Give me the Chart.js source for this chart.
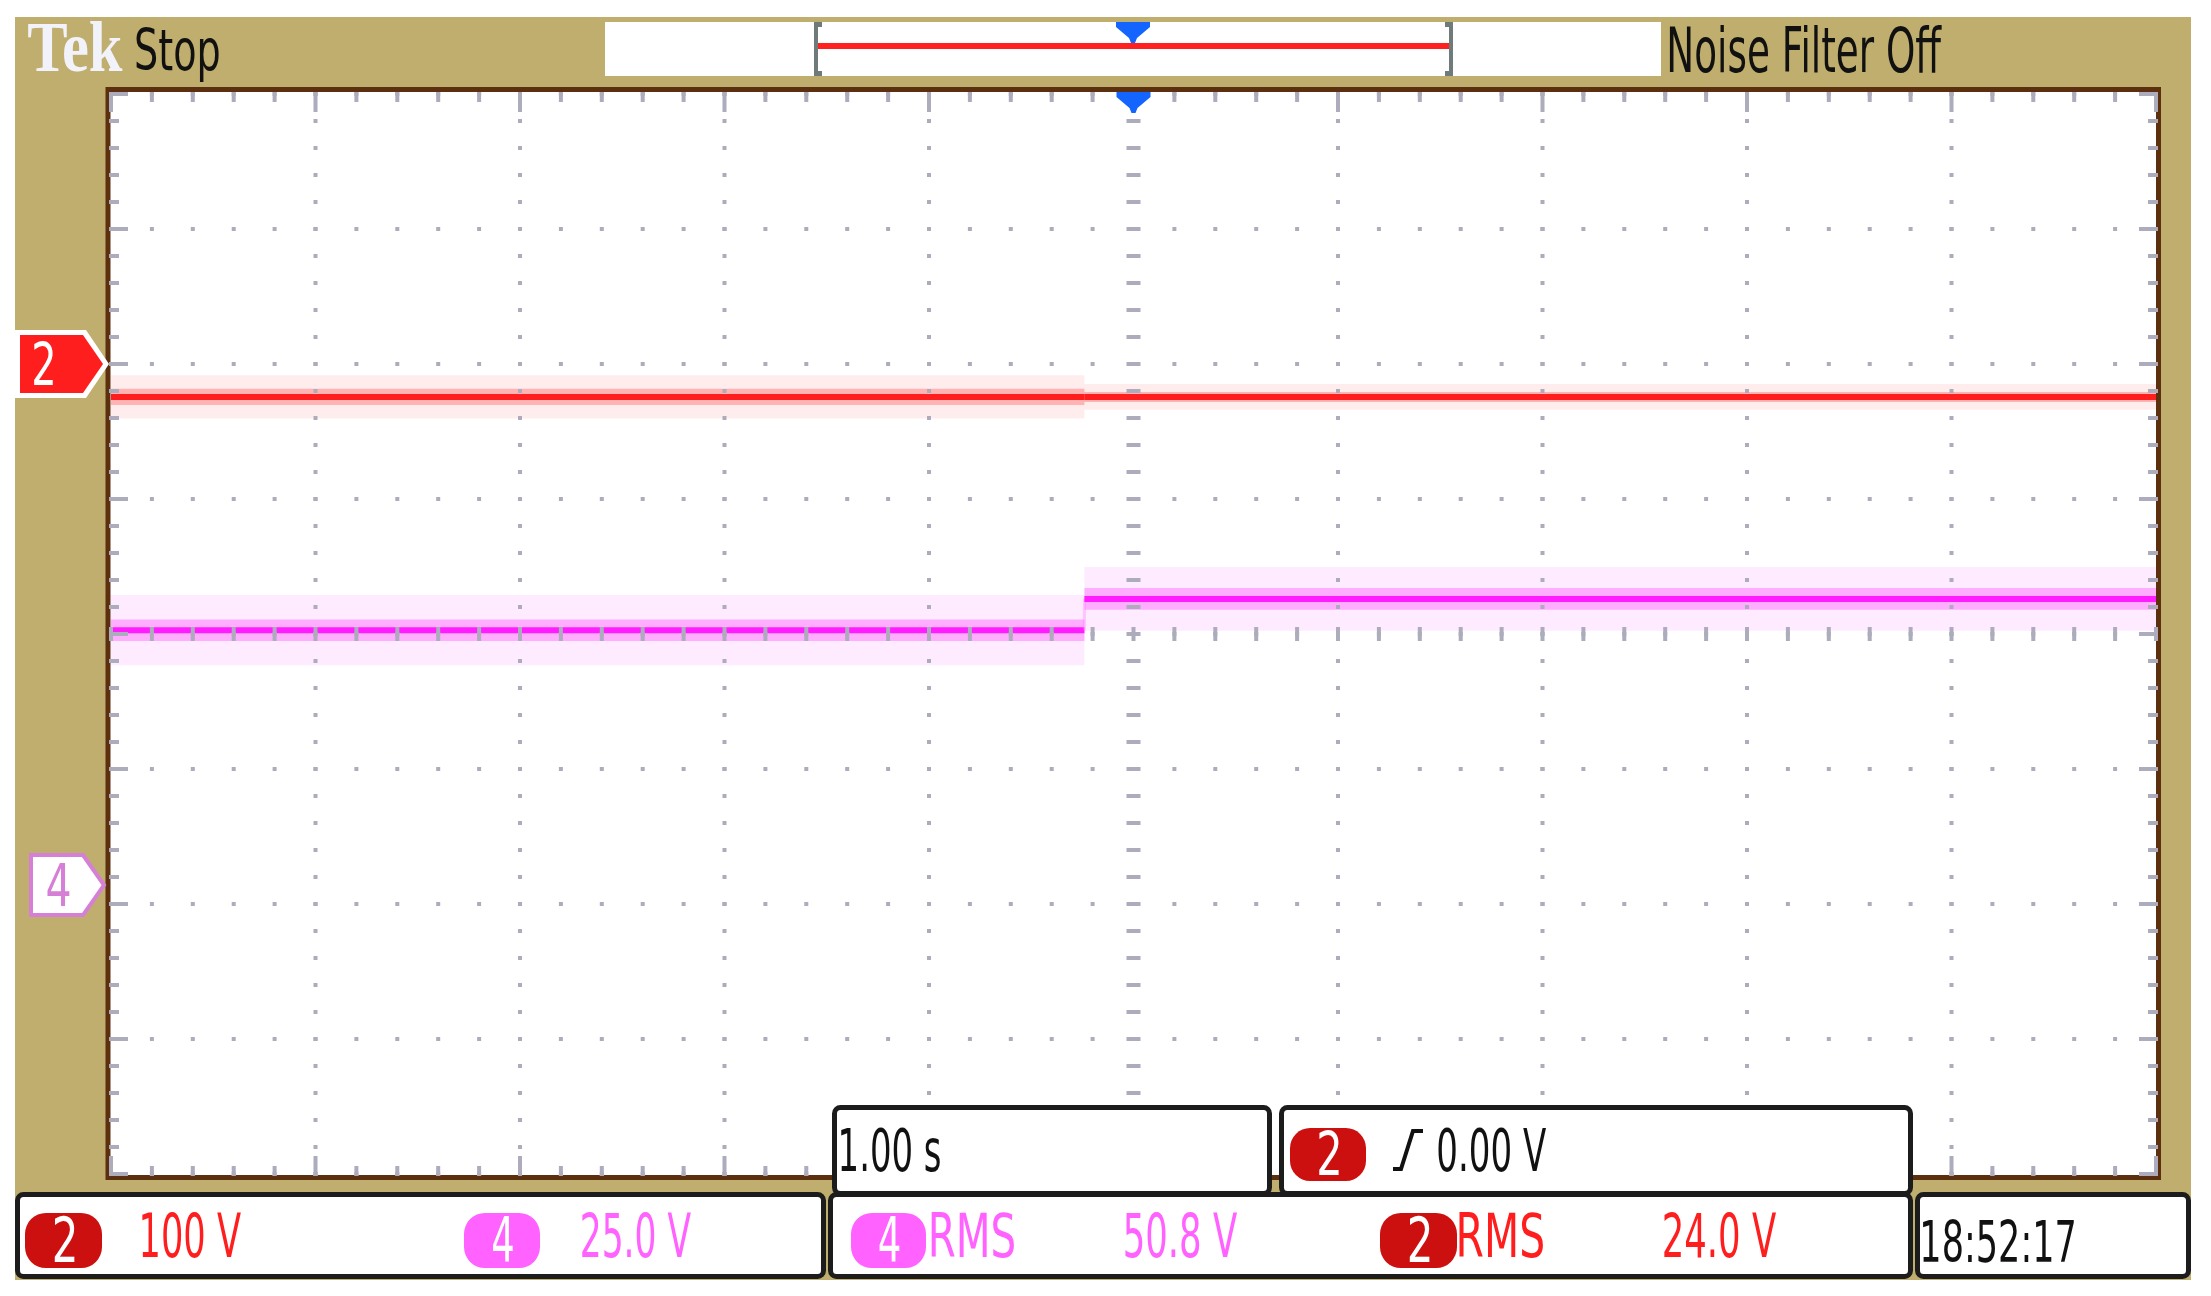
<!DOCTYPE html>
<html>
<head>
<meta charset="utf-8">
<script src="https://cdn.jsdelivr.net/npm/chart.js@4/dist/chart.umd.min.js"></script>
<style>
  html, body { margin: 0; background: #fff; }
  canvas { display: block; }
</style>
</head>
<body>
<canvas id="scope" width="2211" height="1296"></canvas>
<script>
// time axis: seconds relative to trigger, 1.00 s/div, 10 divisions
const segEdges = [-5, -0.24, 5];
// channel levels per segment (V)
const ch2Volts = [-24.4, -24.4];
const ch4Volts = [47.2, 53.0];
// noise envelope half widths per segment (V)
const ch2Spread = [16, 9.5];
const ch2Dense = [6, 3.7];
const ch4Spread = [6.5, 5.9];
const ch4Dense = [2.0, 2.0];
// vertical settings
const ch2Scale = 100, ch4Scale = 25;   // V/div
const ch2Pos = 2.0, ch4Pos = -1.86;    // div
const rmsValues = [50.8, 24.0];        // ch4, ch2
const timePerDiv = "1.00 s";
const trigLevel = "0.00 V";
const clock = "18:52:17";

const TAN = "#c0ae6e";
const RED = "#ff1e1e";
const DARKRED = "#cc1010";
const MAG = "#ff62ff";
const GRAT = "#acacbc";
const FONT = "'DejaVu Sans'";

const ch2Div = v => v / ch2Scale + ch2Pos;
const ch4Div = v => v / ch4Scale + ch4Pos;

function trace(levels, conv) {
  const pts = [];
  levels.forEach((v, i) => {
    pts.push({ x: segEdges[i], y: conv(v) });
    pts.push({ x: segEdges[i + 1], y: conv(v) });
  });
  return pts;
}
function band(levels, spread, sign, conv) {
  return trace(levels.map((v, i) => v + sign * spread[i]), conv);
}

// draw text squeezed into a box (scope font is very narrow)
function fitText(ctx, str, x0, x1, capTop, baseline, color, family, weight) {
  const size = (baseline - capTop) / 0.73;
  ctx.save();
  ctx.font = (weight || "") + " " + size + "px " + (family || FONT);
  const m = ctx.measureText(str);
  const w = m.actualBoundingBoxLeft + m.actualBoundingBoxRight;
  ctx.translate(x0, baseline);
  ctx.scale((x1 - x0) / w, 1);
  ctx.fillStyle = color;
  ctx.textBaseline = "alphabetic";
  ctx.fillText(str, m.actualBoundingBoxLeft, 0);
  ctx.restore();
}

function box(ctx, x0, y0, x1, y1) {
  ctx.beginPath();
  ctx.roundRect(x0 + 2.5, y0 + 2.5, x1 - x0 - 5, y1 - y0 - 5, 6);
  ctx.fillStyle = "#fff";
  ctx.fill();
  ctx.lineWidth = 5;
  ctx.strokeStyle = "#1c1c1c";
  ctx.stroke();
}

function pill(ctx, x0, x1, y0, y1, fill, digit) {
  ctx.beginPath();
  ctx.roundRect(x0, y0, x1 - x0, y1 - y0, (y1 - y0) * 0.38);
  ctx.fillStyle = fill;
  ctx.fill();
  const cx = (x0 + x1) / 2 + 1;
  fitText(ctx, digit, cx - 10, cx + 10, y0 + 3, y1 - 6, "#fff");
}

function blueMarker(ctx, cx, t) {
  ctx.beginPath();
  ctx.moveTo(cx - 17, t);
  ctx.lineTo(cx + 17, t);
  ctx.lineTo(cx + 17, t + 5);
  ctx.lineTo(cx + 4, t + 16);
  ctx.lineTo(cx + 2, t + 21);
  ctx.lineTo(cx - 2, t + 21);
  ctx.lineTo(cx - 4, t + 16);
  ctx.lineTo(cx - 17, t + 5);
  ctx.closePath();
  ctx.fillStyle = "#1464ff";
  ctx.fill();
}

const frame = {
  id: "frame",
  beforeDraw(chart) {
    const ctx = chart.ctx;
    const a = chart.chartArea;
    ctx.save();
    ctx.fillStyle = "#fff";
    ctx.fillRect(0, 0, chart.width, chart.height);
    ctx.fillStyle = TAN;
    ctx.fillRect(15, 17, 2176, 1263);
    ctx.fillStyle = "#fff";
    ctx.fillRect(a.left - 2, a.top - 3, a.right - a.left + 3, a.bottom - a.top + 5);
    ctx.strokeStyle = "#5c2f0f";
    ctx.lineWidth = 5;
    ctx.strokeRect(a.left - 3, a.top - 4.5, a.right - a.left + 5.5, a.bottom - a.top + 8);

    // top bar
    fitText(ctx, "Tek", 28, 123, 18, 71, "#f2f2fb", "'Liberation Serif'", "bold");
    fitText(ctx, "Stop", 136, 219, 28, 70, "#111");
    fitText(ctx, "Noise Filter Off", 1670, 1942, 27, 72, "#111");
    ctx.fillStyle = "#fff";
    ctx.fillRect(605, 22, 1056, 54);
    ctx.fillStyle = "#6f7a7a";
    ctx.fillRect(814, 22, 4, 54);
    ctx.fillRect(814, 22, 8, 5);
    ctx.fillRect(814, 71, 8, 5);
    ctx.fillRect(1449, 22, 4, 54);
    ctx.fillRect(1445, 22, 8, 5);
    ctx.fillRect(1445, 71, 8, 5);
    ctx.fillStyle = "#ff2020";
    ctx.fillRect(818, 43, 631, 6);
    blueMarker(ctx, 1133, 22);
    ctx.restore();
  },
  afterDatasetsDraw(chart) {
    const ctx = chart.ctx;
    const a = chart.chartArea;
    const xs = chart.scales.x, ys = chart.scales.y;
    ctx.save();
    ctx.fillStyle = GRAT;
    const cx = xs.getPixelForValue(0), cy = ys.getPixelForValue(0);
    // dotted major lines
    for (let i = -5; i <= 5; i++) {
      const x = xs.getPixelForValue(i);
      for (let k = -20; k <= 20; k++) {
        const y = ys.getPixelForValue(k / 5);
        ctx.fillRect(x - 2, y - 2, 4, 4);
      }
    }
    for (let j = -4; j <= 4; j++) {
      const y = ys.getPixelForValue(j);
      for (let k = -25; k <= 25; k++) {
        const x = xs.getPixelForValue(k / 5);
        ctx.fillRect(x - 2, y - 2, 4, 4);
      }
    }
    // edge ticks and centre cross ticks
    for (let k = -20; k <= 20; k++) {
      const y = ys.getPixelForValue(k / 5);
      const len = k % 5 === 0 ? 18 : 9;
      ctx.fillRect(a.left - 1, y - 2, len, 4);
      ctx.fillRect(a.right + 1 - len, y - 2, len, 4);
      ctx.fillRect(cx - 7, y - 2, 14, 4);
    }
    for (let k = -25; k <= 25; k++) {
      const x = xs.getPixelForValue(k / 5);
      const len = k % 5 === 0 ? 20 : 10;
      ctx.fillRect(x - 2, a.top - 2, 4, len);
      ctx.fillRect(x - 2, a.bottom + 2 - len, 4, len);
      ctx.fillRect(x - 2, cy - 7, 4, 14);
    }
    ctx.restore();
  },
  afterDraw(chart) {
    const ctx = chart.ctx;
    const xs = chart.scales.x, ys = chart.scales.y;
    ctx.save();
    blueMarker(ctx, xs.getPixelForValue(0), 92);

    // channel ground markers
    let y = ys.getPixelForValue(ch2Pos);
    ctx.beginPath();
    ctx.moveTo(15, y - 34); ctx.lineTo(86, y - 34); ctx.lineTo(109, y);
    ctx.lineTo(86, y + 34); ctx.lineTo(15, y + 34); ctx.closePath();
    ctx.fillStyle = "#fff"; ctx.fill();
    ctx.beginPath();
    ctx.moveTo(20, y - 29); ctx.lineTo(83, y - 29); ctx.lineTo(103, y);
    ctx.lineTo(83, y + 29); ctx.lineTo(20, y + 29); ctx.closePath();
    ctx.fillStyle = RED; ctx.fill();
    fitText(ctx, "2", 34, 53, y - 22, y + 21, "#fff");

    y = ys.getPixelForValue(ch4Pos);
    ctx.beginPath();
    ctx.moveTo(31, y - 30); ctx.lineTo(83, y - 30); ctx.lineTo(104, y);
    ctx.lineTo(83, y + 30); ctx.lineTo(31, y + 30); ctx.closePath();
    ctx.fillStyle = "#fff"; ctx.fill();
    ctx.lineWidth = 4; ctx.strokeStyle = "#d67fd6"; ctx.stroke();
    fitText(ctx, "4", 47, 70, y - 22, y + 21, "#d67fd6");

    // readout boxes
    box(ctx, 15, 1192, 826, 1279);
    box(ctx, 828, 1192, 1913, 1279);
    box(ctx, 1915, 1192, 2191, 1279);
    box(ctx, 832, 1105, 1272, 1196);
    box(ctx, 1279, 1105, 1913, 1196);

    pill(ctx, 25, 102, 1213, 1268, DARKRED, "2");
    fitText(ctx, ch2Scale + " V", 142, 241, 1213, 1257, RED);
    pill(ctx, 464, 540, 1213, 1268, MAG, "4");
    fitText(ctx, ch4Scale.toFixed(1) + " V", 582, 691, 1213, 1257, MAG);

    pill(ctx, 851, 926, 1213, 1268, MAG, "4");
    fitText(ctx, "RMS", 931, 1014, 1213, 1257, MAG);
    fitText(ctx, rmsValues[0].toFixed(1) + " V", 1125, 1237, 1213, 1257, MAG);
    pill(ctx, 1380, 1457, 1213, 1268, DARKRED, "2");
    fitText(ctx, "RMS", 1459, 1543, 1213, 1257, RED);
    fitText(ctx, rmsValues[1].toFixed(1) + " V", 1664, 1776, 1213, 1257, RED);
    fitText(ctx, clock, 1923, 2074, 1220, 1262, "#111");

    fitText(ctx, timePerDiv, 841, 940, 1128, 1171, "#111");
    pill(ctx, 1290, 1366, 1128, 1181, DARKRED, "2");
    ctx.beginPath();
    ctx.moveTo(1393, 1169); ctx.lineTo(1401, 1169);
    ctx.lineTo(1413, 1131); ctx.lineTo(1423, 1131);
    ctx.lineWidth = 4; ctx.strokeStyle = "#111"; ctx.stroke();
    fitText(ctx, trigLevel, 1438, 1546, 1128, 1171, "#111");
    ctx.restore();
  }
};

// vertical jump of a step is only faintly drawn on the scope
const stepFade = faint => ({
  borderColor: c => (c.p0.parsed.x === c.p1.parsed.x ? faint : undefined),
  borderWidth: c => (c.p0.parsed.x === c.p1.parsed.x ? 3 : undefined)
});

const line = (data, color, width, order, faint) => ({
  data, borderColor: color, borderWidth: width, order,
  pointRadius: 0, fill: false, tension: 0, segment: stepFade(faint)
});
const area = (data, color, order) => ({
  data, borderWidth: 0, borderColor: "rgba(0,0,0,0)", backgroundColor: color,
  order, pointRadius: 0, fill: "+1", tension: 0
});
const edge = (data, order) => ({
  data, borderWidth: 0, borderColor: "rgba(0,0,0,0)", order,
  pointRadius: 0, fill: false, tension: 0
});

new Chart(document.getElementById("scope"), {
  type: "line",
  data: {
    datasets: [
      line(trace(ch2Volts, ch2Div), RED, 6, 0, "rgba(255,60,60,0.25)"),
      line(trace(ch4Volts, ch4Div), "#ff1cff", 6, 0, "rgba(255,120,255,0.35)"),
      area(band(ch2Volts, ch2Dense, 1, ch2Div), "rgba(255,60,60,0.33)", 1),
      edge(band(ch2Volts, ch2Dense, -1, ch2Div), 1),
      area(band(ch4Volts, ch4Dense, 1, ch4Div), "rgba(255,50,255,0.33)", 1),
      edge(band(ch4Volts, ch4Dense, -1, ch4Div), 1),
      area(band(ch2Volts, ch2Spread, 1, ch2Div), "rgba(255,90,90,0.11)", 2),
      edge(band(ch2Volts, ch2Spread, -1, ch2Div), 2),
      area(band(ch4Volts, ch4Spread, 1, ch4Div), "rgba(255,100,255,0.13)", 2),
      edge(band(ch4Volts, ch4Spread, -1, ch4Div), 2)
    ]
  },
  options: {
    responsive: false,
    animation: false,
    devicePixelRatio: 1,
    parsing: false,
    layout: { padding: { left: 111, top: 94, right: 55, bottom: 122 } },
    plugins: { legend: { display: false }, tooltip: { enabled: false } },
    scales: {
      x: { type: "linear", min: -5, max: 5, display: false },
      y: { type: "linear", min: -4, max: 4, display: false }
    }
  },
  plugins: [frame]
});
</script>
</body>
</html>
